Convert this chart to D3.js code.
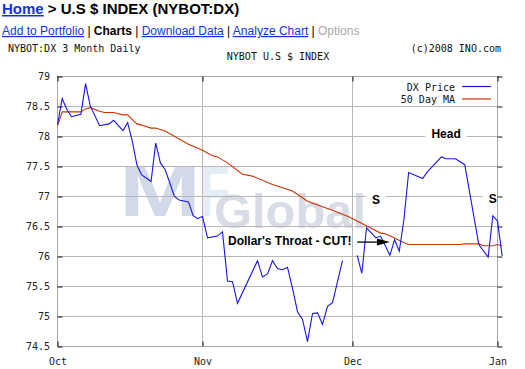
<!DOCTYPE html>
<html>
<head>
<meta charset="utf-8">
<script src="https://cdn.jsdelivr.net/npm/d3@7"></script>
<style>
body { margin: 0; background: #fff; }
svg { display: block; }
</style>
</head>
<body>
<script>
// DX price (null = no data, line breaks)
var priceDates = ["2007-10-01","2007-10-02","2007-10-03","2007-10-04","2007-10-06","2007-10-07","2007-10-08",
  "2007-10-10","2007-10-12","2007-10-13","2007-10-15","2007-10-16","2007-10-17","2007-10-18","2007-10-19",
  "2007-10-21","2007-10-22","2007-10-23","2007-10-24","2007-10-25","2007-10-26","2007-10-27","2007-10-29",
  "2007-10-30","2007-10-31","2007-11-01","2007-11-02","2007-11-04","2007-11-05","2007-11-06","2007-11-07",
  "2007-11-08","2007-11-12","2007-11-13","2007-11-14","2007-11-15","2007-11-16","2007-11-17","2007-11-18",
  "2007-11-19","2007-11-20","2007-11-21","2007-11-22","2007-11-23","2007-11-24","2007-11-25","2007-11-26",
  "2007-11-27","2007-11-29","2007-11-30","2007-12-02","2007-12-03","2007-12-04","2007-12-06","2007-12-07",
  "2007-12-09","2007-12-10","2007-12-11","2007-12-12","2007-12-13","2007-12-16","2007-12-17","2007-12-20",
  "2007-12-21","2007-12-23","2007-12-25","2007-12-28","2007-12-30","2007-12-31","2008-01-01","2008-01-02"];
var priceValues = [78.20,78.63,78.45,78.33,78.37,78.88,78.51,
  78.18,78.21,78.27,78.10,78.23,77.92,77.52,77.36,
  77.25,77.89,77.56,77.45,77.23,77.00,76.94,76.91,
  76.68,76.63,76.67,76.31,76.34,76.41,75.59,75.58,
  75.22,75.93,75.66,75.71,75.93,75.80,75.78,75.82,
  75.47,75.08,74.95,74.58,75.05,75.06,74.87,75.17,
  75.23,75.93,null,76.02,75.72,76.48,76.31,76.34,
  76.02,76.28,76.09,76.62,77.40,77.30,77.41,77.66,
  77.63,77.63,77.53,76.20,75.99,76.68,76.59,76.01];

// 50 day moving average
var maDates = ["2007-10-01","2007-10-02","2007-10-06","2007-10-07","2007-10-08","2007-10-10","2007-10-11",
  "2007-10-13","2007-10-15","2007-10-16","2007-10-17","2007-10-18","2007-10-19","2007-10-21","2007-10-22",
  "2007-10-24","2007-10-27","2007-10-29","2007-11-01","2007-11-03","2007-11-04","2007-11-06","2007-11-09",
  "2007-11-11","2007-11-15","2007-11-19","2007-11-22","2007-11-25","2007-11-27","2007-11-30","2007-12-02",
  "2007-12-05","2007-12-07","2007-12-08","2007-12-10","2007-12-12","2007-12-13","2007-12-24","2007-12-25",
  "2007-12-28","2007-12-29","2007-12-31","2008-01-01","2008-01-02"];
var maValues = [78.18,78.41,78.41,78.46,78.48,78.42,78.40,
  78.40,78.36,78.36,78.28,78.21,78.19,78.14,78.14,
  78.09,77.96,77.87,77.77,77.68,77.66,77.56,77.37,
  77.34,77.20,77.09,76.92,76.83,76.77,76.67,76.59,
  76.47,76.39,76.38,76.31,76.23,76.20,76.20,76.21,
  76.21,76.18,76.18,76.20,76.18];

var yTicks = [74.5,75,75.5,76,76.5,77,77.5,78,78.5,79];
var monthDates = ["2007-10-01","2007-11-01","2007-12-01","2008-01-01"];
var monthLabels = ["Oct","Nov","Dec","Jan"];
var seriesNames = ["DX Price","50 Day MA"];
var seriesColors = ["#1515e6","#cc3300"];

var w = 525, h = 369;
var mono = "'DejaVu Sans Mono', monospace";
var sans = "'Liberation Sans', Arial, sans-serif";
var parse = d3.timeParse("%Y-%m-%d");

var svg = d3.select("body").append("svg")
  .attr("width", w)
  .attr("height", h);

var x = d3.scaleTime()
  .domain(monthDates.map(parse))
  .range([57.5, 202.5, 352.5, 497.5]);
var y = d3.scaleLinear()
  .domain([74.5, 79])
  .range([346.5, 76.5]);

// page header
var head = svg.append("text").attr("x", 2).attr("y", 14)
  .style("font-family", sans).style("font-size", "15px").style("font-weight", "bold");
head.append("tspan").text("Home").attr("fill", "#1133dd").style("text-decoration", "underline");
head.append("tspan").text(" > U.S $ INDEX (NYBOT:DX)").attr("fill", "#000");

var nav = [["Add to Portfolio","link"],[" | ","sep"],["Charts","bold"],[" | ","sep"],["Download Data","link"],
  [" | ","sep"],["Analyze Chart","link"],[" | ","sep"],["Options","off"]];
var navText = svg.append("text").attr("x", 2).attr("y", 35)
  .style("font-family", sans).style("font-size", "12px").attr("xml:space", "preserve");
nav.forEach(function(n){
  var t = navText.append("tspan").text(n[0]);
  if (n[1] == "link") t.attr("fill", "#1133dd").style("text-decoration", "underline");
  if (n[1] == "sep") t.attr("fill", "#000");
  if (n[1] == "bold") t.attr("fill", "#000").style("font-weight", "bold");
  if (n[1] == "off") t.attr("fill", "#aaa");
});

svg.append("text").attr("x", 8).attr("y", 52).text("NYBOT:DX 3 Month Daily")
  .style("font-family", mono).style("font-size", "10px").attr("fill", "#111");
svg.append("text").attr("x", 501).attr("y", 51.5).attr("text-anchor", "end").text("(c)2008 INO.com")
  .style("font-family", mono).style("font-size", "10px").attr("fill", "#111");
svg.append("text").attr("x", 278).attr("y", 60).attr("text-anchor", "middle").text("NYBOT U.S $ INDEX")
  .style("font-family", mono).style("font-size", "10px").attr("fill", "#111");

// watermark logo
var wm = svg.append("g");
wm.append("text").attr("x", 119).attr("y", 216).text("M")
  .attr("textLength", 82).attr("lengthAdjust", "spacingAndGlyphs")
  .style("font-family", sans).style("font-size", "72px").style("font-weight", "bold").attr("fill", "#d2daea");
wm.append("text").attr("x", 200).attr("y", 216).text("F")
  .attr("textLength", 30).attr("lengthAdjust", "spacingAndGlyphs")
  .style("font-family", sans).style("font-size", "72px").style("font-weight", "bold").attr("fill", "#e4ecf6");
wm.append("text").attr("x", 214).attr("y", 228).text("Global")
  .attr("textLength", 152).attr("lengthAdjust", "spacingAndGlyphs")
  .style("font-family", sans).style("font-size", "48px").style("font-weight", "bold").attr("fill", "#d7dce6");

// grid
svg.append("g").selectAll("line")
  .data(yTicks.slice(1, -1))
  .join("line")
  .attr("x1", x.range()[0]).attr("x2", 497.5)
  .attr("y1", function(d){ return y(d); }).attr("y2", function(d){ return y(d); })
  .attr("stroke", "#b8b8b8");
svg.append("g").selectAll("line")
  .data(monthDates.slice(1, -1))
  .join("line")
  .attr("x1", function(d){ return x(parse(d)); }).attr("x2", function(d){ return x(parse(d)); })
  .attr("y1", y(79)).attr("y2", y(74.5))
  .attr("stroke", "#b8b8b8");

// annotation labels with white boxes
var notes = [
  {text: "Head", date: "2007-12-21", value: 77.98},
  {text: "S", date: "2007-12-06", value: 76.87},
  {text: "S", date: "2007-12-31", value: 76.9}
];
var noteG = svg.append("g");
notes.forEach(function(n){
  var t = noteG.append("text")
    .attr("x", x(parse(n.date))).attr("y", y(n.value))
    .attr("text-anchor", "middle").text(n.text)
    .style("font-family", sans).style("font-size", "12px").style("font-weight", "bold");
  var b = t.node().getBBox();
  noteG.insert("rect", "text").attr("x", b.x - 6).attr("y", b.y).attr("width", b.width + 12).attr("height", b.height)
    .attr("fill", "#fff");
});

// frame
svg.append("rect")
  .attr("x", 57.5).attr("y", y(79)).attr("width", 440).attr("height", y(74.5) - y(79))
  .attr("fill", "none").attr("stroke", "#a8a8a8");

// axes
svg.append("g").attr("transform", "translate(57.5,0)")
  .call(d3.axisLeft(y).tickValues(yTicks).tickSize(-5).tickPadding(7.5)
    .tickFormat(function(d){ return d3.format("")(d); }));
svg.append("g").attr("transform", "translate(497.5,0)")
  .call(d3.axisRight(y).tickValues(yTicks).tickSize(5).tickFormat(""));
svg.append("g").attr("transform", "translate(0," + y(74.5) + ")")
  .call(d3.axisBottom(x).tickValues(monthDates.map(parse)).tickSize(-5).tickPadding(11)
    .tickFormat(function(d, i){ return monthLabels[i]; }));
svg.append("g").attr("transform", "translate(0," + y(79) + ")")
  .call(d3.axisTop(x).tickValues(monthDates.map(parse)).tickSize(-5).tickFormat(""));
svg.selectAll(".domain").remove();
svg.selectAll(".tick line").attr("stroke", "#111");
svg.selectAll(".tick text").style("font-family", mono).style("font-size", "10px").attr("fill", "#222");

// lines
var priceData = priceDates.map(function(d, i){ return {date: parse(d), value: priceValues[i]}; });
var maData = maDates.map(function(d, i){ return {date: parse(d), value: maValues[i]}; });
var line = d3.line()
  .defined(function(d){ return d.value != null; })
  .x(function(d){ return x(d.date); })
  .y(function(d){ return y(d.value); });
svg.append("path").datum(maData).attr("d", line)
  .attr("fill", "none").attr("stroke", seriesColors[1]).attr("stroke-width", 1.1);
svg.append("path").datum(priceData).attr("d", line)
  .attr("fill", "none").attr("stroke", seriesColors[0]).attr("stroke-width", 1.1);

// legend
var leg = svg.append("g");
seriesNames.forEach(function(name, i){
  var ly = 86.5 + i * 12.5;
  leg.append("text").attr("x", 455).attr("y", ly + 4).attr("text-anchor", "end").text(name)
    .style("font-family", mono).style("font-size", "10px").attr("fill", "#111");
  leg.append("line").attr("x1", 462).attr("x2", 491).attr("y1", ly).attr("y2", ly)
    .attr("stroke", seriesColors[i]).attr("stroke-width", 1.2);
});

// dollar's throat note and arrow
var ay = y(76.24);
svg.append("text").attr("x", x(parse("2007-12-01")) - 1).attr("y", ay + 3)
  .attr("text-anchor", "end").text("Dollar's Throat - CUT!")
  .style("font-family", sans).style("font-size", "12px").style("font-weight", "bold").attr("fill", "#000");
var ax1 = x(parse("2007-12-02")), ax2 = x(parse("2007-12-09"));
svg.append("line").attr("x1", ax1).attr("x2", ax2 - 4).attr("y1", ay).attr("y2", ay)
  .attr("stroke", "#000").attr("stroke-width", 1.3);
svg.append("path")
  .attr("d", "M" + (ax2 - 13) + "," + (ay - 3.5) + "L" + ax2 + "," + ay + "L" + (ax2 - 13) + "," + (ay + 3.5) + "Z")
  .attr("fill", "#000");
</script>
</body>
</html>
